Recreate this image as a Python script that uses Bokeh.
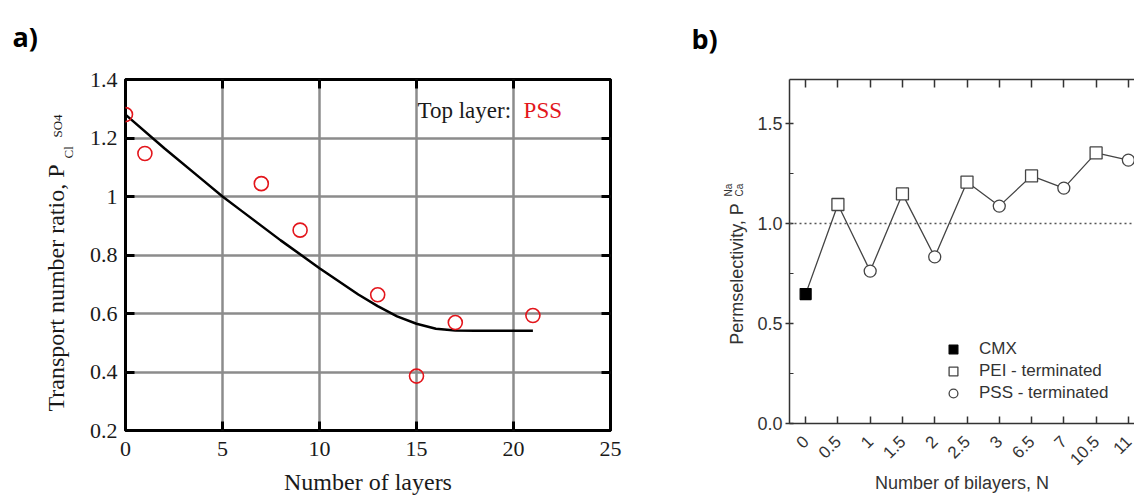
import math
from bokeh.plotting import figure
from bokeh.layouts import row
from bokeh.models import (Range1d, FixedTicker, LinearAxis, Label, Span, Legend,
                          LegendItem, ColumnDataSource)
from bokeh.embed import file_html
from bokeh.resources import INLINE

# ---------------- data: panel a ----------------
layers = [0, 1, 7, 9, 13, 15, 17, 21]
ratio = [1.28, 1.147, 1.044, 0.885, 0.664, 0.386, 0.569, 0.593]
fit_layers = [0, 2, 4, 5, 6, 8, 10, 12, 13, 14, 15, 16, 17, 18, 21]
fit_ratio = [1.28, 1.165, 1.055, 1.0, 0.95, 0.85, 0.755, 0.665, 0.625, 0.59,
             0.565, 0.548, 0.542, 0.541, 0.541]
a_xticks = [0, 5, 10, 15, 20, 25]
a_yticks = [0.2, 0.4, 0.6, 0.8, 1.0, 1.2, 1.4]
a_ytick_labels = ["0.2", "0.4", "0.6", "0.8", "1", "1.2", "1.4"]

# ---------------- data: panel b ----------------
bilayers = ["0", "0.5", "1", "1.5", "2", "2.5", "3", "6.5", "7", "10.5", "11"]
perm = [0.647, 1.095, 0.762, 1.148, 0.833, 1.207, 1.087, 1.238, 1.177, 1.353, 1.317]
termination = ["CMX", "PEI", "PSS", "PEI", "PSS", "PEI", "PSS", "PEI", "PSS", "PEI", "PSS"]
b_yticks = [0.0, 0.5, 1.0, 1.5]
b_yminor = [0.25, 0.75, 1.25]

SERIF = "Liberation Serif"
SANS = "Liberation Sans"
RED = "#e3161c"
AX = "#333333"
H = 497


def no_align(f):
    try:
        f.frame_align = False
    except Exception:
        pass


def side_panel(width):
    """A blank strip in pixel coordinates carrying the panel letter and the y title."""
    f = figure(width=width, height=H, x_range=Range1d(0, width), y_range=Range1d(0, H),
               output_backend="svg", toolbar_location=None, x_axis_type=None,
               y_axis_type=None, min_border=0)
    f.outline_line_color = None
    f.xgrid.visible = False
    f.ygrid.visible = False
    f.background_fill_color = "white"
    f.border_fill_color = "white"
    no_align(f)
    return f


# ================= left strip (a) =================
sa = side_panel(80)
sa.add_layout(Label(x=12, y=H - 36, text="a)", text_font="Open Sans", text_font_style="bold",
                    text_font_size="27px", text_color="black", text_baseline="alphabetic"))
sa.add_layout(Label(x=55, y=H - 287.5, text="Transport number ratio, P", angle=math.pi / 2,
                    text_align="center", text_baseline="alphabetic", text_font=SERIF,
                    text_font_size="24px", text_color="#1a1a1a"))
sa.add_layout(Label(x=68, y=H - 158, text="Cl", angle=math.pi / 2,
                    text_align="left", text_baseline="alphabetic", text_font=SERIF,
                    text_font_size="13px", text_color="#1a1a1a"))
sa.add_layout(Label(x=57, y=H - 137, text="SO4", angle=math.pi / 2,
                    text_align="left", text_baseline="alphabetic", text_font=SERIF,
                    text_font_size="13px", text_color="#1a1a1a"))

# ================= panel a =================
p1 = figure(width=560, height=H, x_range=Range1d(0, 25), y_range=Range1d(0.2, 1.4),
            output_backend="svg", toolbar_location=None,
            min_border_left=45, min_border_right=30, min_border_top=79, min_border_bottom=64)
no_align(p1)
p1.background_fill_color = "white"
p1.border_fill_color = "white"
p1.outline_line_color = "black"
p1.outline_line_width = 3

p1.xgrid.ticker = FixedTicker(ticks=a_xticks)
p1.ygrid.ticker = FixedTicker(ticks=a_yticks)
for g in (p1.xgrid, p1.ygrid):
    g.grid_line_color = "#8c8c8c"
    g.grid_line_width = 2.5


def style_axis_a(ax):
    ax.axis_line_color = None
    ax.major_tick_in = 9
    ax.major_tick_out = 0
    ax.major_tick_line_color = "black"
    ax.major_tick_line_width = 3
    ax.minor_tick_line_color = None
    ax.major_label_text_font = SERIF
    ax.major_label_text_font_size = "22px"
    ax.major_label_text_color = "#1a1a1a"


xa = p1.xaxis[0]
xa.ticker = FixedTicker(ticks=a_xticks)
style_axis_a(xa)
xa.major_label_standoff = 11
xa.axis_label = "Number of layers"
xa.axis_label_text_font = SERIF
xa.axis_label_text_font_size = "24px"
xa.axis_label_text_font_style = "normal"
xa.axis_label_text_color = "#1a1a1a"
xa.axis_label_standoff = 10

ya = p1.yaxis[0]
ya.ticker = FixedTicker(ticks=a_yticks)
ya.major_label_overrides = {t: l for t, l in zip(a_yticks, a_ytick_labels)}
style_axis_a(ya)
ya.major_label_standoff = 8

top_a = LinearAxis(ticker=FixedTicker(ticks=a_xticks))
style_axis_a(top_a)
top_a.major_label_text_color = None
top_a.major_label_text_font_size = "1px"
p1.add_layout(top_a, "above")
right_a = LinearAxis(ticker=FixedTicker(ticks=a_yticks))
style_axis_a(right_a)
right_a.major_label_text_color = None
right_a.major_label_text_font_size = "1px"
p1.add_layout(right_a, "right")

p1.line(fit_layers, fit_ratio, line_color="black", line_width=2.5)
p1.scatter(layers, ratio, marker="circle", size=14, fill_color=None,
           line_color=RED, line_width=1.6)

p1.add_layout(Label(x=15.05, y=1.295, text="Top layer:", text_font=SERIF,
                    text_font_size="23px", text_color="#1a1a1a", text_baseline="alphabetic"))
p1.add_layout(Label(x=20.52, y=1.295, text="PSS", text_font=SERIF,
                    text_font_size="23px", text_color=RED, text_baseline="alphabetic"))

# ================= left strip (b) =================
sb = side_panel(110)
sb.add_layout(Label(x=51, y=H - 38, text="b)", text_font="Open Sans", text_font_style="bold",
                    text_font_size="27px", text_color="black", text_baseline="alphabetic"))
sb.add_layout(Label(x=96, y=H - 273.5, text="Permselectivity, P", angle=math.pi / 2,
                    text_align="center", text_baseline="alphabetic", text_font=SANS,
                    text_font_size="18px", text_color=AX))
sb.add_layout(Label(x=88, y=H - 196, text="Na", angle=math.pi / 2,
                    text_align="left", text_baseline="alphabetic", text_font=SANS,
                    text_font_size="10px", text_color=AX))
sb.add_layout(Label(x=99, y=H - 196, text="Ca", angle=math.pi / 2,
                    text_align="left", text_baseline="alphabetic", text_font=SANS,
                    text_font_size="10px", text_color=AX))

# ================= panel b =================
xs = list(range(len(bilayers)))
p2 = figure(width=384, height=H, x_range=Range1d(-0.5, 10.19), y_range=Range1d(0, 1.72),
            output_backend="svg", toolbar_location=None,
            min_border_left=39, min_border_right=0, min_border_top=79, min_border_bottom=74)
no_align(p2)
p2.background_fill_color = "white"
p2.border_fill_color = "white"
p2.outline_line_color = None
p2.xgrid.visible = False
p2.ygrid.visible = False


def style_axis_b(ax):
    ax.axis_line_color = AX
    ax.axis_line_width = 1.5
    ax.major_tick_line_color = AX
    ax.major_tick_line_width = 1.5
    ax.minor_tick_line_color = AX
    ax.minor_tick_line_width = 1.2
    ax.major_label_text_font = SANS
    ax.major_label_text_font_size = "18px"
    ax.major_label_text_color = AX


xb = p2.xaxis[0]
xb.ticker = FixedTicker(ticks=xs)
xb.major_label_overrides = {i: s for i, s in zip(xs, bilayers)}
style_axis_b(xb)
xb.major_label_text_font_size = "17px"
xb.major_tick_in = 7
xb.major_tick_out = 0
xb.major_label_orientation = math.pi / 4
xb.major_label_standoff = 15
xb.axis_label = "Number of bilayers, N"
xb.axis_label_text_font = SANS
xb.axis_label_text_font_size = "18px"
xb.axis_label_text_font_style = "normal"
xb.axis_label_text_color = AX
xb.axis_label_standoff = 0

yb = p2.yaxis[0]
yb.ticker = FixedTicker(ticks=b_yticks, minor_ticks=b_yminor)
yb.major_label_overrides = {t: f"{t:.1f}" for t in b_yticks}
style_axis_b(yb)
yb.major_tick_in = 4
yb.major_tick_out = 4
yb.minor_tick_in = 4
yb.minor_tick_out = 0
yb.major_label_standoff = 3

top_b = LinearAxis(ticker=FixedTicker(ticks=xs))
style_axis_b(top_b)
top_b.major_tick_in = 8
top_b.major_tick_out = 0
top_b.major_label_text_color = None
top_b.major_label_text_font_size = "1px"
p2.add_layout(top_b, "above")

p2.add_layout(Span(location=1.0, dimension="width", line_color="#555555",
                   line_width=1.3, line_dash="2 3"))

p2.line(xs, perm, line_color="#444444", line_width=1.3)


def subset(kind):
    ix = [i for i, t in enumerate(termination) if t == kind]
    return ColumnDataSource(dict(x=[xs[i] for i in ix], y=[perm[i] for i in ix]))


r_cmx = p2.scatter("x", "y", source=subset("CMX"), marker="square", size=11,
                   fill_color="black", line_color="black", line_width=1.2)
r_pei = p2.scatter("x", "y", source=subset("PEI"), marker="square", size=12,
                   fill_color="white", line_color="#444444", line_width=1.3)
r_pss = p2.scatter("x", "y", source=subset("PSS"), marker="circle", size=12,
                   fill_color="white", line_color="#444444", line_width=1.3)

legend = Legend(items=[LegendItem(label="CMX", renderers=[r_cmx]),
                       LegendItem(label="PEI - terminated", renderers=[r_pei]),
                       LegendItem(label="PSS - terminated", renderers=[r_pss])],
                location=(153, 19), glyph_width=22, glyph_height=22, label_height=22,
                spacing=0, padding=0, margin=0, border_line_color=None,
                background_fill_alpha=0, label_standoff=15, label_text_font=SANS,
                label_text_font_size="17px", label_text_color=AX)
p2.add_layout(legend)

layout = row(sa, p1, sb, p2, spacing=0)
open("out.html", "w").write(file_html(layout, INLINE))
